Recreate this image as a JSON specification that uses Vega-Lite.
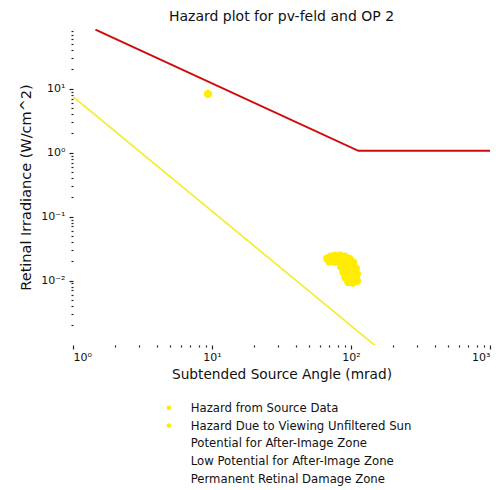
{
  "$schema": "https://vega.github.io/schema/vega-lite/v6.json",
  "autosize": {"type": "none"},
  "padding": {"left": 73, "top": 29, "right": 14, "bottom": 145},
  "width": 417,
  "height": 316,
  "background": "white",
  "config": {
    "font": "DejaVu Sans",
    "view": {"stroke": null},
    "axis": {"grid": false, "domain": false, "tickColor": "#222", "labelColor": "#111", "titleColor": "#111", "labelFont": "DejaVu Sans", "titleFont": "DejaVu Sans", "titleFontWeight": "normal"}
  },
  "title": {"text": "Hazard plot for pv-feld and OP 2", "font": "DejaVu Sans", "fontSize": 14, "fontWeight": "normal", "color": "#111", "offset": 5},
  "datasets": {
    "red": [
      {"a": 1.45, "e": 84},
      {"a": 113, "e": 1.07},
      {"a": 1000, "e": 1.07}
    ],
    "yellow": [
      {"a": 1, "e": 7.5},
      {"a": 150, "e": 0.00095}
    ],
    "pts": [
      {"a": 9.36, "e": 8.3, "series": "Hazard Due to Viewing Unfiltered Sun"},
      {"a": 67.5, "e": 0.0222, "series": "Hazard from Source Data"},
      {"a": 71.5, "e": 0.0236, "series": "Hazard from Source Data"},
      {"a": 76.7, "e": 0.0244, "series": "Hazard from Source Data"},
      {"a": 83.3, "e": 0.0244, "series": "Hazard from Source Data"},
      {"a": 90.5, "e": 0.0236, "series": "Hazard from Source Data"},
      {"a": 97.3, "e": 0.0218, "series": "Hazard from Source Data"},
      {"a": 103.5, "e": 0.0192, "series": "Hazard from Source Data"},
      {"a": 70.0, "e": 0.0198, "series": "Hazard from Source Data"},
      {"a": 76.0, "e": 0.0196, "series": "Hazard from Source Data"},
      {"a": 83.3, "e": 0.02, "series": "Hazard from Source Data"},
      {"a": 92.0, "e": 0.0192, "series": "Hazard from Source Data"},
      {"a": 85.0, "e": 0.0166, "series": "Hazard from Source Data"},
      {"a": 92.0, "e": 0.0166, "series": "Hazard from Source Data"},
      {"a": 100.6, "e": 0.0161, "series": "Hazard from Source Data"},
      {"a": 108.4, "e": 0.0155, "series": "Hazard from Source Data"},
      {"a": 88.1, "e": 0.0136, "series": "Hazard from Source Data"},
      {"a": 95.1, "e": 0.0134, "series": "Hazard from Source Data"},
      {"a": 103.1, "e": 0.0129, "series": "Hazard from Source Data"},
      {"a": 110.3, "e": 0.0127, "series": "Hazard from Source Data"},
      {"a": 91.1, "e": 0.0112, "series": "Hazard from Source Data"},
      {"a": 98.3, "e": 0.0106, "series": "Hazard from Source Data"},
      {"a": 107.6, "e": 0.0106, "series": "Hazard from Source Data"},
      {"a": 95.6, "e": 0.0095, "series": "Hazard from Source Data"},
      {"a": 103.3, "e": 0.0093, "series": "Hazard from Source Data"},
      {"a": 110.3, "e": 0.0099, "series": "Hazard from Source Data"}
    ]
  },
  "encoding": {
    "x": {
      "field": "a", "type": "quantitative",
      "scale": {"type": "log", "domain": [1, 1000], "nice": false},
      "axis": {
        "title": "Subtended Source Angle (mrad)", "titleFontSize": 13.7, "titlePadding": 5,
        "values": [1,2,3,4,5,6,7,8,9,10,20,30,40,50,60,70,80,90,100,200,300,400,500,600,700,800,900,1000],
        "labelExpr": "datum.value==1?'10⁰':datum.value==10?'10¹':datum.value==100?'10²':datum.value==1000?'10³':''",
        "labelFontSize": 11, "labelPadding": 2,
        "tickSize": {"condition": {"test": "datum.value==1||datum.value==10||datum.value==100||datum.value==1000", "value": 4}, "value": 2},
        "tickWidth": 1.2
      }
    },
    "y": {
      "field": "e", "type": "quantitative",
      "scale": {"type": "log", "domain": [0.00098, 86], "nice": false},
      "axis": {
        "title": "Retinal Irradiance (W/cm^2)", "titleFontSize": 14.5, "titlePadding": 7,
        "values": [0.002,0.003,0.004,0.005,0.006,0.007,0.008,0.009,0.01,0.02,0.03,0.04,0.05,0.06,0.07,0.08,0.09,0.1,0.2,0.3,0.4,0.5,0.6,0.7,0.8,0.9,1,2,3,4,5,6,7,8,9,10,20,30,40,50,60,70,80],
        "labelExpr": "datum.value==10?'10¹':datum.value==1?'10⁰':datum.value==0.1?'10⁻¹':datum.value==0.01?'10⁻²':''",
        "labelFontSize": 11, "labelPadding": 4,
        "tickSize": {"condition": {"test": "datum.value==10||datum.value==1||datum.value==0.1||datum.value==0.01", "value": 4}, "value": 2},
        "tickWidth": 1.2
      }
    }
  },
  "layer": [
    {
      "data": {"name": "yellow"},
      "mark": {"type": "line", "color": "#f4ec2c", "strokeWidth": 1.6, "clip": true},
      "encoding": {}
    },
    {
      "data": {"name": "red"},
      "mark": {"type": "line", "color": "#d10a0a", "strokeWidth": 2, "clip": true},
      "encoding": {}
    },
    {
      "data": {"name": "pts"},
      "mark": {"type": "point", "filled": true, "opacity": 1, "size": 70, "shape": "circle"},
      "encoding": {
        "color": {
          "field": "series", "type": "nominal",
          "scale": {
            "domain": ["Hazard from Source Data", "Hazard Due to Viewing Unfiltered Sun", "Potential for After-Image Zone", "Low Potential for After-Image Zone", "Permanent Retinal Damage Zone"],
            "range": ["#ffec00", "#ffec00", "rgba(0,0,0,0)", "rgba(0,0,0,0)", "rgba(0,0,0,0)"]
          },
          "legend": {
            "title": null, "orient": "none", "legendX": 90, "legendY": 373,
            "direction": "vertical", "symbolType": "circle", "symbolSize": 22,
            "labelFontSize": 11.7, "labelFont": "DejaVu Sans", "labelColor": "#111",
            "labelOffset": 16, "rowPadding": 4.7, "labelLimit": 400
          }
        }
      }
    }
  ]
}
